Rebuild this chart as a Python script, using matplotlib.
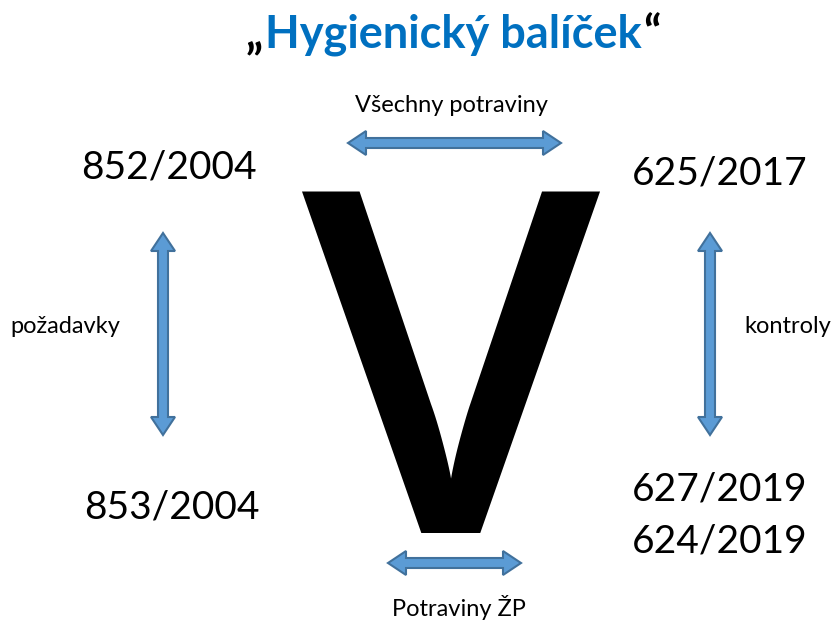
import numpy as np
import matplotlib.pyplot as plt
from matplotlib.patches import Polygon

plt.rcParams['font.family'] = ['Lato', 'DejaVu Sans']

W, H = 835, 620

title_word = 'Hygienický balíček'
top_label = 'Všechny potraviny'
bottom_label = 'Potraviny ŽP'
left_label = 'požadavky'
right_label = 'kontroly'
left_top = '852/2004'
left_bottom = '853/2004'
right_top = '625/2017'
right_bottom = ['627/2019', '624/2019']

# arrows: (x0, y0, x1, y1)
arrows = [
    (348, 143, 561, 143),
    (388, 563, 521, 563),
    (163, 233, 163, 435),
    (710, 233, 710, 435),
]

fill_c = '#5B9BD5'
edge_c = '#41719C'
blue = '#0070C0'


def double_arrow(x0, y0, x1, y1, shaft=10, head_w=24, head_l=18):
    d = np.array([x1 - x0, y1 - y0], float)
    L = np.hypot(*d)
    u = d / L
    n = np.array([-u[1], u[0]])
    p0 = np.array([x0, y0], float)
    pts = []
    for t, w in [(0, 0), (head_l, head_w / 2), (head_l, shaft / 2),
                 (L - head_l, shaft / 2), (L - head_l, head_w / 2), (L, 0),
                 (L - head_l, -head_w / 2), (L - head_l, -shaft / 2),
                 (head_l, -shaft / 2), (head_l, -head_w / 2)]:
        pts.append(p0 + u * t + n * w)
    return Polygon(pts, closed=True, facecolor=fill_c, edgecolor=edge_c, linewidth=1.5)


fig = plt.figure(figsize=(8.35, 6.2), dpi=100)
ax = fig.add_axes([0, 0, 1, 1])
ax.set_xlim(0, W)
ax.set_ylim(H, 0)
ax.axis('off')

# title: black quotes around blue words
t1 = ax.text(453, 48, title_word, ha='center', va='baseline',
             fontsize=32.5, fontweight='bold', color=blue)
fig.canvas.draw()
bb = t1.get_window_extent().transformed(ax.transData.inverted())
ax.text(bb.x0 - 2, 48, '„', ha='right', va='baseline', fontsize=32.5,
        fontweight='bold', color='black')
ax.text(bb.x1 + 2, 48, '“', ha='left', va='baseline', fontsize=32.5,
        fontweight='bold', color='black')

# big V
ax.text(451, 533, 'V', ha='center', va='baseline', fontsize=345,
        family=['Open Sans', 'DejaVu Sans'], fontweight='semibold', color='black')

for a in arrows:
    ax.add_patch(double_arrow(*a))

ax.text(451, 112, top_label, ha='center', va='baseline', fontsize=17)
ax.text(459, 616, bottom_label, ha='center', va='baseline', fontsize=17)
ax.text(65, 333, left_label, ha='center', va='baseline', fontsize=17)
ax.text(788, 333, right_label, ha='center', va='baseline', fontsize=17)

ax.text(169, 179, left_top, ha='center', va='baseline', fontsize=28)
ax.text(172, 518, left_bottom, ha='center', va='baseline', fontsize=28)
ax.text(720, 185, right_top, ha='center', va='baseline', fontsize=28)
for i, s in enumerate(right_bottom):
    ax.text(720, 500 + 53 * i, s, ha='center', va='baseline', fontsize=28)

fig.savefig('out.png', dpi=100)
